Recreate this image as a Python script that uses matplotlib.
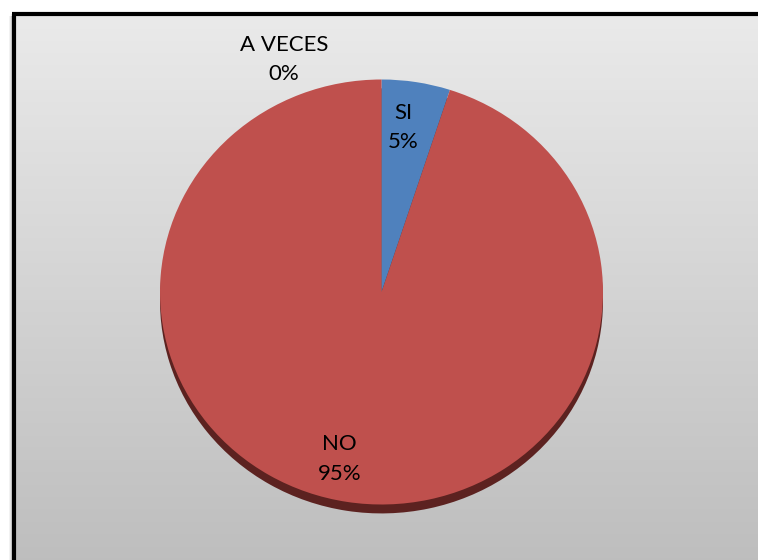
import numpy as np
import matplotlib.pyplot as plt
from matplotlib.patches import Rectangle

# datos de la encuesta
categorias = ["SI", "NO", "A VECES"]
valores = [5, 95, 0]
etiquetas = ["SI\n5%", "NO\n95%", "A VECES\n0%"]
colores = ["#4f81bd", "#bf504d", "#9bbb59"]

# posicion de cada etiqueta (en radios del pastel)
pos_etiquetas = [(0.10, 0.775), (-0.19, -0.785), (-0.44, 1.095)]

W, H = 758, 560
fig = plt.figure(figsize=(W / 100, H / 100), dpi=100)
fig.patch.set_facecolor("white")

# fondo degradado del area del grafico
bg = fig.add_axes([0, 0, 1, 1])
grad = np.linspace(0, 1, 256).reshape(-1, 1)
top = np.array([0.918, 0.918, 0.918])
bot = np.array([0.745, 0.745, 0.745])
img = top + (bot - top) * grad[..., None]
bg.imshow(img, aspect="auto", extent=[14 / W, 1, 0, 1 - 14 / H],
          transform=bg.transAxes)
bg.set_xlim(0, 1)
bg.set_ylim(0, 1)
bg.axis("off")

# sombra y marco negro
for i, a in enumerate([0.05, 0.1, 0.18]):
    bg.add_patch(Rectangle(((9 + i) / W, 0), 1 / W, 1 - 16 / H,
                           transform=bg.transAxes, color="black", alpha=a, lw=0))
bg.plot([13.5 / W, 13.5 / W], [0, 1 - 13.5 / H], color="black", lw=3,
        transform=bg.transAxes, solid_capstyle="butt")
bg.plot([12 / W, 1], [1 - 13.5 / H, 1 - 13.5 / H], color="black", lw=3,
        transform=bg.transAxes, solid_capstyle="butt")

# pastel (escala distinta en x e y: aspecto ligeramente inclinado)
ax = fig.add_axes([0, 0, 1, 1])
ax.patch.set_alpha(0)
cx, cy = 381.5, 292
rx, ry = 221.5, 212.5

# borde inferior oscuro (efecto 3D)
ax.pie(valores, colors=["#2b3f5c", "#5c2220", "#4a5a2a"], startangle=90,
       counterclock=False, center=(0, -0.042), radius=1.0,
       wedgeprops=dict(linewidth=0))
wedges, _ = ax.pie(valores, colors=colores, startangle=90, counterclock=False,
                   radius=1.0, wedgeprops=dict(linewidth=0))

ax.set_aspect("auto")
ax.set_xlim(-cx / rx, (W - cx) / rx)
ax.set_ylim(-(H - cy) / ry, cy / ry)
ax.axis("off")

for txt, (x, y) in zip(etiquetas, pos_etiquetas):
    ax.text(x, y, txt, ha="center", va="center", fontsize=16,
            family=["Lato", "DejaVu Sans"], color="black", linespacing=1.6)

fig.savefig("out.png", dpi=100)
